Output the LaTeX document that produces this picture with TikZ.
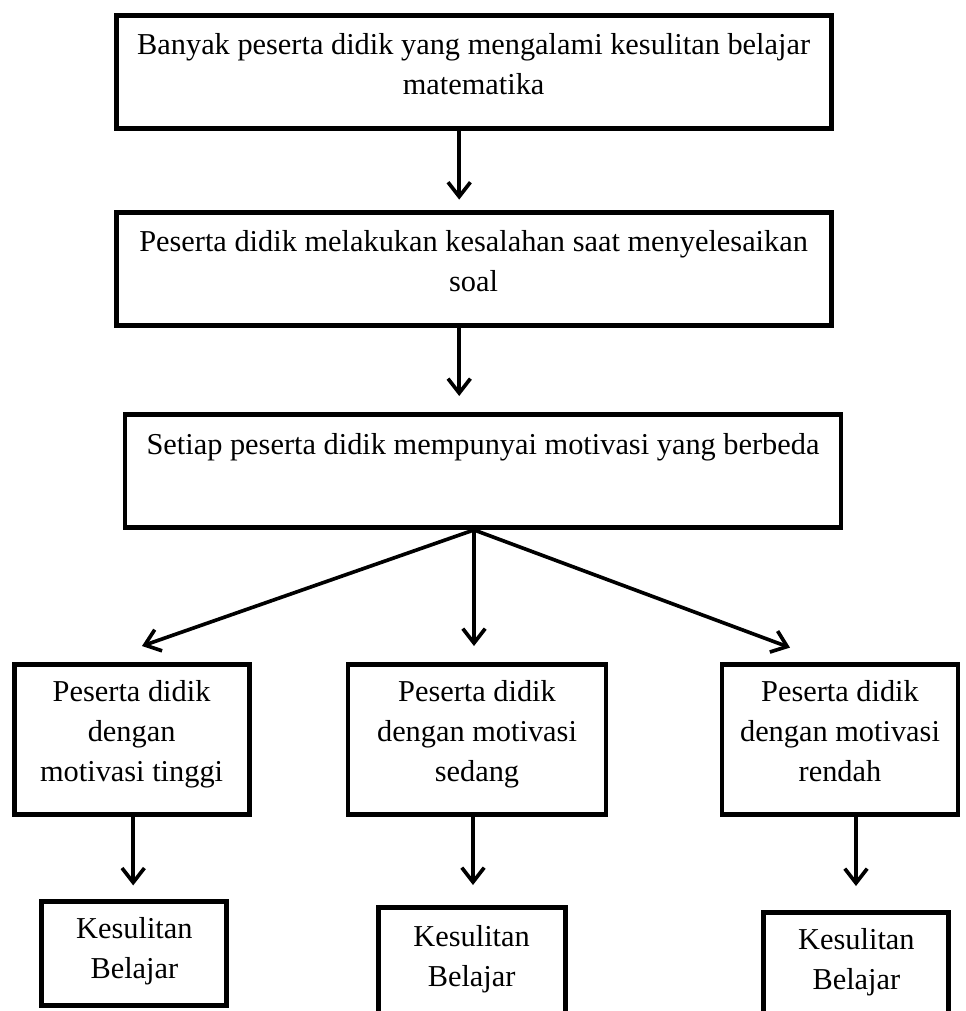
\documentclass[tikz,border=0pt]{standalone}
\usepackage{fontspec}
\setmainfont{Liberation Serif}
\usetikzlibrary{arrows.meta,calc}

\begin{document}
\begin{tikzpicture}[
  box/.style={
    draw=black,
    line width=3.5pt,
    inner sep=0pt,
    align=center,
    anchor=north,
    font=\fontsize{21.6pt}{28.5pt}\selectfont
  },
  line/.style={-{Straight Barb[length=3.6mm,width=5.6mm]}, line width=2.6pt, draw=black}
]
\useasboundingbox (0,0) rectangle (241.5mm,-252.75mm);

% ===== Top chain =====
\node[box, minimum width=178.75mm, text height=19.78mm, text depth=8.47mm] (prob) at (118.4mm,-3.25mm)
  {Banyak peserta didik yang mengalami kesulitan belajar\\matematika};
\node[box, minimum width=178.75mm, text height=19.78mm, text depth=8.47mm] (err) at (118.4mm,-52.5mm)
  {Peserta didik melakukan kesalahan saat menyelesaikan\\soal};
\node[box, minimum width=179mm, text height=10mm, text depth=18.25mm] (motiv) at (120.75mm,-103mm)
  {Setiap peserta didik mempunyai motivasi yang berbeda};

\draw[line, shorten >=2.6mm] ([xshift=-3.6mm]prob.south) -- ([xshift=-3.6mm]prob.south |- err.north);
\draw[line, shorten >=4mm] ([xshift=-3.6mm]err.south) -- ([xshift=-3.6mm]err.south |- motiv.north);

% ===== Motivation levels =====
\node[box, minimum width=58.75mm, text height=29.31mm, text depth=8.19mm] (high) at (32.9mm,-165.5mm)
  {Peserta didik\\dengan\\motivasi tinggi};
\node[box, minimum width=64.5mm, text height=29.31mm, text depth=8.19mm] (mid) at (119.25mm,-165.5mm)
  {Peserta didik\\dengan motivasi\\sedang};
\node[box, minimum width=59mm, text height=29.31mm, text depth=8.19mm] (low) at (210mm,-165.5mm)
  {Peserta didik\\dengan motivasi\\rendah};

\draw[line] ([xshift=-2.25mm]motiv.south) -- ([xshift=2.6mm,yshift=4mm]high.north);
\draw[line] ([xshift=-2.25mm]motiv.south) -- ([xshift=-0.75mm,yshift=4mm]mid.north);
\draw[line] ([xshift=-2.25mm]motiv.south) -- ([xshift=-12.5mm,yshift=3.6mm]low.north);

% ===== Results =====
\node[box, minimum width=46.25mm, text height=19.28mm, text depth=6.72mm] (resh) at (33.6mm,-224.75mm)
  {Kesulitan\\Belajar};
\node[box, minimum width=46.75mm, text height=19.78mm, text depth=7.72mm] (resm) at (117.9mm,-226.25mm)
  {Kesulitan\\Belajar};
\node[box, minimum width=46.25mm, text height=19.28mm, text depth=6.97mm] (resl) at (214.1mm,-227.5mm)
  {Kesulitan\\Belajar};

\draw[line, shorten >=3.4mm] ([xshift=0.4mm]high.south) -- ([xshift=0.4mm]high.south |- resh.north);
\draw[line, shorten >=5mm] ([xshift=-1mm]mid.south) -- ([xshift=-1mm]mid.south |- resm.north);
\draw[line, shorten >=6mm] ([xshift=4mm]low.south) -- ([xshift=4mm]low.south |- resl.north);

\end{tikzpicture}
\end{document}
